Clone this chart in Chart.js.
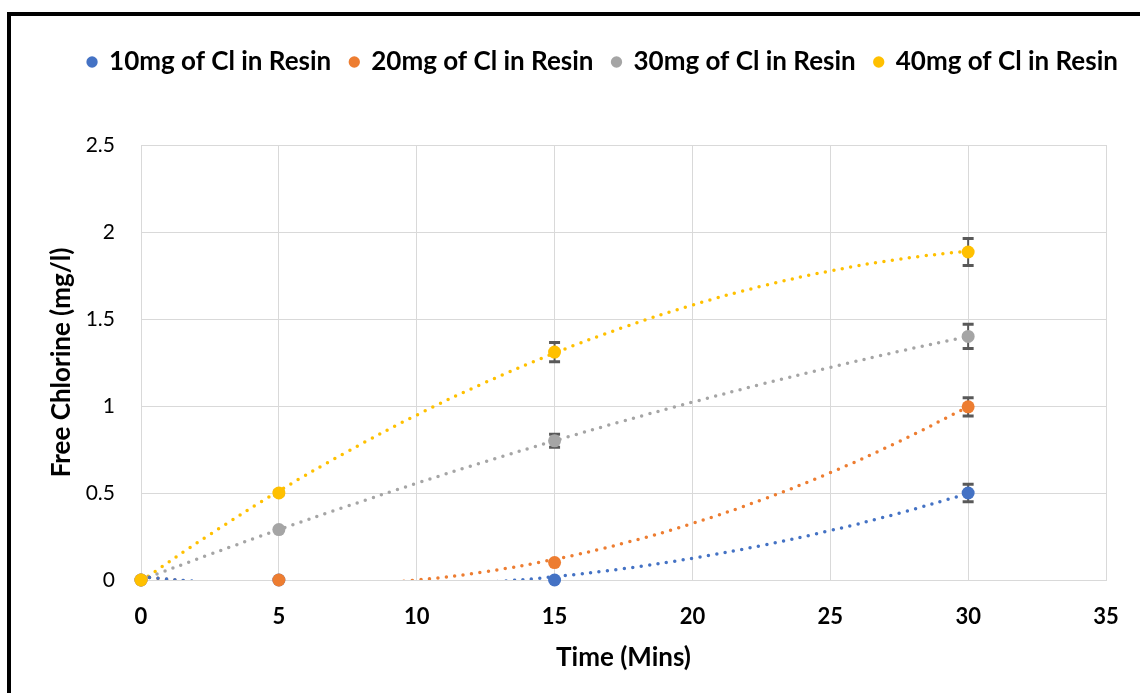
<!DOCTYPE html>
<html>
<head>
<meta charset="utf-8">
<script src="https://cdn.jsdelivr.net/npm/chart.js@4.4.1/dist/chart.umd.min.js"></script>
<style>
  html, body { margin: 0; padding: 0; background: #fff; }
  #wrap { position: relative; width: 1140px; height: 693px; overflow: hidden; }
  #frame { position: absolute; left: 7px; top: 12px; width: 1300px; height: 900px; border: 4px solid #000; box-sizing: border-box; pointer-events: none; }
</style>
</head>
<body>
<div id="wrap">
  <canvas id="chart" width="1140" height="693"></canvas>
  <div id="frame"></div>
</div>
<script>
// measured points
const times = [0, 5, 15, 30];
const cl10 = [0, 0, 0, 0.5];
const cl20 = [0, 0, 0.1, 0.995];
const cl30 = [0, 0.29, 0.8, 1.4];
const cl40 = [0, 0.5, 1.31, 1.885];

// error bar half lengths
const err10 = [0, 0, 0, 0.05];
const err20 = [0, 0, 0, 0.053];
const err30 = [0, 0, 0.037, 0.07];
const err40 = [0, 0.012, 0.055, 0.077];

// dotted trendlines
const trendX = [0, 2.5, 5, 7.5, 10, 12.5, 15, 17.5, 20, 22.5, 25, 27.5, 30];
const trend10 = [0.019, -0.014, -0.034, -0.041, -0.034, -0.014, 0.019, 0.065, 0.125, 0.198, 0.284, 0.384, 0.497];
const trend20 = [0.019, -0.018, -0.034, -0.028, 0.0, 0.048, 0.119, 0.211, 0.325, 0.46, 0.617, 0.796, 0.996];
const trend30 = [0.0, 0.147, 0.289, 0.425, 0.556, 0.681, 0.8, 0.914, 1.022, 1.125, 1.222, 1.314, 1.4];
const trend40 = [-0.006, 0.262, 0.511, 0.739, 0.948, 1.136, 1.304, 1.452, 1.58, 1.688, 1.776, 1.844, 1.891];

const labels = ['10mg of Cl in Resin', '20mg of Cl in Resin', '30mg of Cl in Resin', '40mg of Cl in Resin'];
const colors = ['#4472C4', '#ED7D31', '#A5A5A5', '#FFC000'];

const FONT = 'Lato, "Open Sans", sans-serif';

function pts(xs, ys) {
    return xs.map((x, i) => ({ x: x, y: ys[i] }));
}

const pointSets = [cl10, cl20, cl30, cl40];
const errSets = [err10, err20, err30, err40];
const trendSets = [trend10, trend20, trend30, trend40];

const datasets = [];
pointSets.forEach((ys, i) => {
    datasets.push({
        label: labels[i],
        data: pts(times, ys),
        errors: errSets[i],
        showLine: false,
        pointRadius: 6.5,
        pointHoverRadius: 6.5,
        pointBackgroundColor: colors[i],
        pointBorderColor: colors[i],
        pointBorderWidth: 0,
        backgroundColor: colors[i],
        borderColor: colors[i],
        clip: false,
        order: 4 - i
    });
});
trendSets.forEach((ys, i) => {
    datasets.push({
        label: 'trend ' + labels[i],
        data: pts(trendX, ys),
        showLine: true,
        pointRadius: 0,
        borderColor: colors[i],
        borderWidth: 3.5,
        borderDash: [0, 8.5],
        borderCapStyle: 'round',
        tension: 0.4,
        clip: 0,
        order: 10
    });
});

// error bars drawn under the markers
const errorBars = {
    id: 'errorBars',
    beforeDatasetsDraw(chart) {
        const { ctx, scales: { x, y } } = chart;
        ctx.save();
        ctx.strokeStyle = '#595959';
        chart.data.datasets.forEach(ds => {
            if (!ds.errors) return;
            ds.data.forEach((p, i) => {
                const e = ds.errors[i];
                if (!e) return;
                const px = x.getPixelForValue(p.x);
                const top = y.getPixelForValue(p.y + e);
                const bot = y.getPixelForValue(p.y - e);
                ctx.lineWidth = 2;
                ctx.beginPath();
                ctx.moveTo(px, top);
                ctx.lineTo(px, bot);
                ctx.stroke();
                ctx.lineWidth = 3;
                ctx.beginPath();
                ctx.moveTo(px - 5.5, top);
                ctx.lineTo(px + 5.5, top);
                ctx.moveTo(px - 5.5, bot);
                ctx.lineTo(px + 5.5, bot);
                ctx.stroke();
            });
        });
        ctx.restore();
    }
};

// move legend to where it sits in the original
const legendShift = {
    id: 'legendShift',
    afterLayout(chart) {
        const lg = chart.legend;
        lg.left += 50; lg.right += 50;
        lg.top -= 60; lg.bottom -= 60;
    }
};

new Chart(document.getElementById('chart').getContext('2d'), {
    type: 'scatter',
    data: { datasets: datasets },
    plugins: [errorBars, legendShift],
    options: {
        responsive: false,
        animation: false,
        events: [],
        layout: { padding: { left: 0, right: 34, top: 90, bottom: 0 } },
        plugins: {
            legend: {
                display: true,
                position: 'top',
                labels: {
                    filter: item => item.datasetIndex < 4,
                    sort: (a, b) => a.datasetIndex - b.datasetIndex,
                    usePointStyle: true,
                    pointStyle: 'circle',
                    boxWidth: 8,
                    boxHeight: 8,
                    padding: 19,
                    color: '#000',
                    font: { family: FONT, size: 26, weight: 'bold' }
                }
            },
            tooltip: { enabled: false }
        },
        scales: {
            x: {
                type: 'linear',
                min: 0,
                max: 35,
                afterFit: s => { s.height = 113; s.paddingLeft = 0; s.paddingRight = 0; },
                ticks: {
                    stepSize: 5,
                    padding: 24,
                    color: '#000',
                    font: { family: FONT, size: 22, weight: 'bold' }
                },
                grid: { color: '#d9d9d9', lineWidth: 1, drawTicks: false },
                border: { color: '#d9d9d9' },
                title: {
                    display: true,
                    text: 'Time (Mins)',
                    color: '#000',
                    padding: { top: 0, bottom: 20 },
                    font: { family: FONT, size: 26, weight: 'bold' }
                }
            },
            y: {
                type: 'linear',
                min: 0,
                max: 2.5,
                afterFit: s => { s.width = 141; s.paddingTop = 0; s.paddingBottom = 0; },
                ticks: {
                    stepSize: 0.5,
                    padding: 26,
                    color: '#000',
                    font: { family: FONT, size: 21 },
                    callback: v => String(v)
                },
                grid: { color: '#d9d9d9', lineWidth: 1, drawTicks: false },
                border: { color: '#d9d9d9' },
                title: {
                    display: true,
                    text: 'Free Chlorine (mg/l)',
                    color: '#000',
                    padding: { top: 46, bottom: 0 },
                    font: { family: FONT, size: 26, weight: 'bold' }
                }
            }
        }
    }
});
</script>
</body>
</html>
